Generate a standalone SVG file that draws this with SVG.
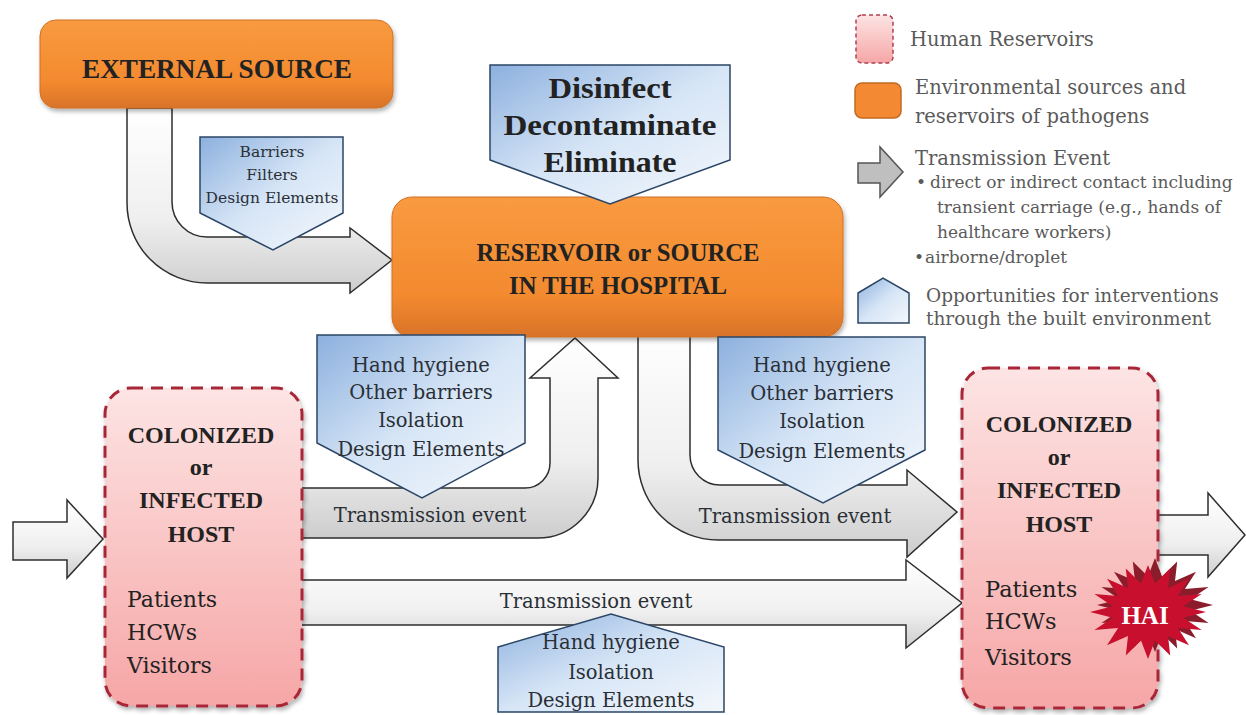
<svg xmlns="http://www.w3.org/2000/svg" width="1246" height="715" viewBox="0 0 1246 715">
<defs>
<style>
.bl{font-family:"Liberation Serif",serif;font-weight:bold;fill:#222;text-anchor:middle}
.rg{font-family:"DejaVu Serif",serif;fill:#222}
.rgc{font-family:"DejaVu Serif",serif;fill:#2a2f36;text-anchor:middle}
.lg{font-family:"DejaVu Serif",serif;fill:#5a5a5a}
.arw{fill:url(#gArrow);stroke:#2e2e2e;stroke-width:1.5;stroke-linejoin:miter}
.blue{fill:url(#gBlue);stroke:#2b4566;stroke-width:1.5;stroke-linejoin:miter}
.orange{fill:url(#gOrange);stroke:#d07024;stroke-width:1}
.host{fill:url(#gPink);stroke:#a82838;stroke-width:3;stroke-dasharray:12 8}
</style>
<linearGradient id="gOrange" x1="0" y1="0" x2="0" y2="1">
<stop offset="0" stop-color="#f99a40"/>
<stop offset="0.7" stop-color="#f38a2f"/>
<stop offset="1" stop-color="#d8732a"/>
</linearGradient>
<linearGradient id="gPink" x1="0" y1="0" x2="0" y2="1">
<stop offset="0" stop-color="#fde4e4"/>
<stop offset="1" stop-color="#f6a6a6"/>
</linearGradient>
<linearGradient id="gBlue" x1="0" y1="0" x2="1" y2="1">
<stop offset="0" stop-color="#8cb0de"/>
<stop offset="0.5" stop-color="#d6e5f6"/>
<stop offset="1" stop-color="#f3f7fc"/>
</linearGradient>
<linearGradient id="gArrow" x1="0" y1="0" x2="0" y2="1">
<stop offset="0" stop-color="#ffffff"/>
<stop offset="0.6" stop-color="#efefef"/>
<stop offset="1" stop-color="#cdcdcd"/>
</linearGradient>
<filter id="sh" x="-10%" y="-10%" width="120%" height="130%">
<feDropShadow dx="1.5" dy="3" stdDeviation="2" flood-color="#000" flood-opacity="0.3"/>
</filter>
</defs>
<rect width="1246" height="715" fill="#ffffff"/>

<g id="connectors">
<path class="arw" d="M127,108 H172 V202 A35,35 0 0 0 207,237 H350 V228 L392,260 L350,293 V283 H207 A80,80 0 0 1 127,203 Z"/>
<path class="arw" d="M295,488 H525 A25,25 0 0 0 550,463 V378 H530 L575,338 L618,378 H598 V478 A60,60 0 0 1 538,538 H295 Z"/>
<path class="arw" d="M638,330 H690 V455 A30,30 0 0 0 720,485 H907 V470 L957,512 L907,557 V540 H718 A80,80 0 0 1 638,460 Z"/>
<path class="arw" d="M295,580 H906 V560 L962,603 L906,648 V625 H295 Z"/>
<path class="arw" d="M13,522 H67 V500 L103,539 L67,578 V560 H13 Z"/>
<path class="arw" d="M1157,515 H1208 V493 L1245,535 L1208,577 V555 H1157 Z"/>
<text class="rgc" x="430" y="522" font-size="19.5">Transmission event</text>
<text class="rgc" x="795" y="523" font-size="19.5">Transmission event</text>
<text class="rgc" x="596" y="608" font-size="19.5">Transmission event</text>
</g>

<g id="external-source">
<rect class="orange" x="40" y="20" width="353" height="88" rx="16" filter="url(#sh)"/>
<text class="bl" x="217" y="78" font-size="28" textLength="270" lengthAdjust="spacingAndGlyphs">EXTERNAL SOURCE</text>
</g>

<g id="barriers">
<path class="blue" d="M200,137 H343 V213 L273,250 L200,213 Z"/>
<text class="rgc" x="272" y="157" font-size="15.5">Barriers</text>
<text class="rgc" x="272" y="180" font-size="15.5">Filters</text>
<text class="rgc" x="272" y="203" font-size="15.5">Design Elements</text>
</g>

<g id="reservoir">
<rect class="orange" x="392" y="197" width="451" height="140" rx="20" filter="url(#sh)"/>
<text class="bl" x="618" y="261" font-size="25" textLength="283" lengthAdjust="spacingAndGlyphs">RESERVOIR or SOURCE</text>
<text class="bl" x="618" y="294" font-size="25" textLength="218" lengthAdjust="spacingAndGlyphs">IN THE HOSPITAL</text>
</g>

<g id="disinfect">
<path class="blue" d="M490,65 H730 V160 L610,204 L490,160 Z"/>
<text class="bl" x="610" y="98" font-size="30" textLength="123" lengthAdjust="spacingAndGlyphs">Disinfect</text>
<text class="bl" x="610" y="135" font-size="30" textLength="213" lengthAdjust="spacingAndGlyphs">Decontaminate</text>
<text class="bl" x="610" y="172" font-size="30" textLength="133" lengthAdjust="spacingAndGlyphs">Eliminate</text>
</g>

<g id="intervention-left">
<path class="blue" d="M317,335 H525 V443 L422,498 L317,443 Z"/>
<text class="rgc" x="421" y="372" font-size="19.5">Hand hygiene</text>
<text class="rgc" x="421" y="399" font-size="19.5">Other barriers</text>
<text class="rgc" x="421" y="427" font-size="19.5">Isolation</text>
<text class="rgc" x="421" y="456" font-size="19.5">Design Elements</text>
</g>

<g id="intervention-right">
<path class="blue" d="M718,337 H925 V450 L823,503 L718,450 Z"/>
<text class="rgc" x="822" y="372" font-size="19.5">Hand hygiene</text>
<text class="rgc" x="822" y="400" font-size="19.5">Other barriers</text>
<text class="rgc" x="822" y="428" font-size="19.5">Isolation</text>
<text class="rgc" x="822" y="458" font-size="19.5">Design Elements</text>
</g>

<g id="intervention-bottom">
<path class="blue" d="M498,647 L611,614 L724,647 V712 H498 Z"/>
<text class="rgc" x="611" y="649" font-size="19.5">Hand hygiene</text>
<text class="rgc" x="611" y="679" font-size="19.5">Isolation</text>
<text class="rgc" x="611" y="707" font-size="19.5">Design Elements</text>
</g>

<g id="host-left">
<rect class="host" x="105" y="388" width="197" height="318" rx="26" filter="url(#sh)"/>
<text class="bl" x="201" y="443" font-size="24">COLONIZED</text>
<text class="bl" x="201" y="475" font-size="24">or</text>
<text class="bl" x="201" y="508" font-size="24">INFECTED</text>
<text class="bl" x="201" y="542" font-size="24">HOST</text>
<text class="rg" x="127" y="607" font-size="22">Patients</text>
<text class="rg" x="127" y="640" font-size="22">HCWs</text>
<text class="rg" x="127" y="673" font-size="22">Visitors</text>
</g>

<g id="host-right">
<rect class="host" x="962" y="368" width="196" height="340" rx="26" filter="url(#sh)"/>
<text class="bl" x="1059" y="432" font-size="24">COLONIZED</text>
<text class="bl" x="1059" y="465" font-size="24">or</text>
<text class="bl" x="1059" y="498" font-size="24">INFECTED</text>
<text class="bl" x="1059" y="532" font-size="24">HOST</text>
<text class="rg" x="985" y="597" font-size="22.5">Patients</text>
<text class="rg" x="985" y="629" font-size="22.5">HCWs</text>
<text class="rg" x="985" y="665" font-size="22.5">Visitors</text>
</g>

<g id="hai">
<polygon fill="#8a1c2c" transform="translate(7,-7)" points="1148,565 1155,583.6 1170.2,568.6 1168,587.9 1189,578.8 1177.9,595.9 1201.6,594 1183.3,606.3 1206,612 1183.3,617.7 1201.6,630 1177.9,628.1 1189,645.2 1168,636.1 1170.2,655.4 1155,640.4 1148,659 1141,640.4 1125.8,655.4 1128,636.1 1107,645.2 1118.1,628.1 1094.4,630 1112.7,617.7 1090,612 1112.7,606.3 1094.4,594 1118.1,595.9 1107,578.8 1128,587.9 1125.8,568.6 1141,583.6"/>
<polygon fill="#c8102e" points="1148,565 1155,583.6 1170.2,568.6 1168,587.9 1189,578.8 1177.9,595.9 1201.6,594 1183.3,606.3 1206,612 1183.3,617.7 1201.6,630 1177.9,628.1 1189,645.2 1168,636.1 1170.2,655.4 1155,640.4 1148,659 1141,640.4 1125.8,655.4 1128,636.1 1107,645.2 1118.1,628.1 1094.4,630 1112.7,617.7 1090,612 1112.7,606.3 1094.4,594 1118.1,595.9 1107,578.8 1128,587.9 1125.8,568.6 1141,583.6"/>
<text x="1145" y="624" font-family="Liberation Serif, serif" font-weight="bold" font-size="25" fill="#ffffff" text-anchor="middle">HAI</text>
</g>

<g id="legend">
<rect x="856" y="15" width="37" height="48" rx="6" fill="url(#gPink)" stroke="#b04050" stroke-width="1.5" stroke-dasharray="4 3"/>
<text class="lg" x="910" y="46" font-size="19.5">Human Reservoirs</text>
<rect x="855" y="83" width="46" height="35" rx="7" fill="#f38a33" stroke="#c2691f" stroke-width="1.5"/>
<text class="lg" x="915" y="94" font-size="19.5">Environmental sources and</text>
<text class="lg" x="915" y="123" font-size="19.5">reservoirs of  pathogens</text>
<path d="M858,163 H880 V147 L903,172 L880,197 V183 H858 Z" fill="#bfbfbf" stroke="#555" stroke-width="1.5"/>
<text class="lg" x="915" y="165" font-size="19.5">Transmission Event</text>
<text class="lg" x="916" y="188" font-size="17">•</text>
<text class="lg" x="930" y="188" font-size="17">direct or indirect contact including</text>
<text class="lg" x="937" y="213" font-size="17">transient carriage (e.g., hands of</text>
<text class="lg" x="937" y="238" font-size="17">healthcare workers)</text>
<text class="lg" x="914" y="263" font-size="17">•</text>
<text class="lg" x="925" y="263" font-size="17">airborne/droplet</text>
<path class="blue" d="M858,293 L883,278 L909,293 V323 H858 Z" stroke-width="2"/>
<text class="lg" x="926" y="302" font-size="18.5">Opportunities for interventions</text>
<text class="lg" x="926" y="325" font-size="18.5">through the built environment</text>
</g>
</svg>
